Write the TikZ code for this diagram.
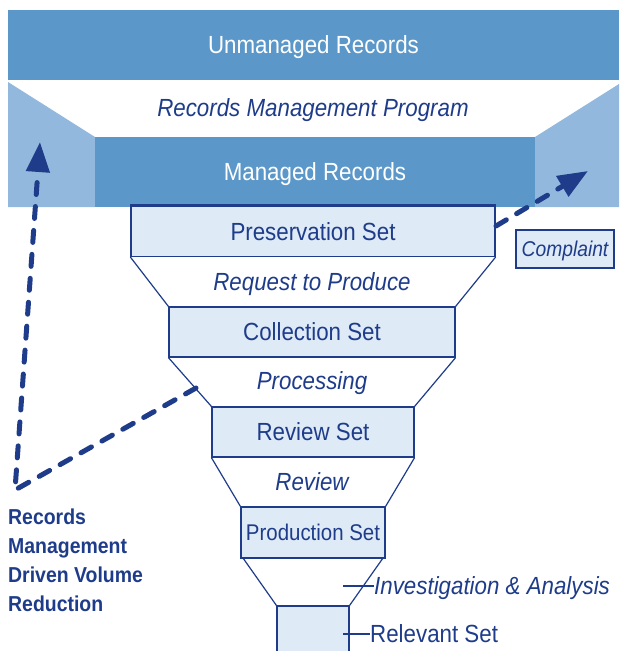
\documentclass[tikz,border=0pt]{standalone}
\usepackage{fontspec}
\setmainfont{Liberation Sans}[FakeStretch=0.9]
\usetikzlibrary{arrows.meta}
\definecolor{midblue}{HTML}{5B98C9}
\definecolor{sideblue}{HTML}{92B9DD}
\definecolor{boxfill}{HTML}{DEEAF5}
\definecolor{navy}{HTML}{1E3C8A}
\begin{document}
\begin{tikzpicture}[x=1pt,y=-1pt,
  band/.style={fill=midblue, text=white, inner sep=0pt,
    font=\fontsize{24.8}{29}\selectfont, text height=17.8pt, text depth=0pt},
  setbox/.style={draw=navy, line width=1.2pt, fill=boxfill, text=navy, inner sep=0pt,
    font=\fontsize{24.8}{29}\selectfont, text height=17.8pt, text depth=0pt},
  stage/.style={text=navy, inner sep=0pt,
    font=\fontsize{24.8}{29}\selectfont\itshape, text height=17.8pt, text depth=0pt},
  plainlbl/.style={text=navy, inner sep=0pt,
    font=\fontsize{24.8}{29}\selectfont, text height=17.8pt, text depth=0pt},
  edge/.style={draw=navy, line width=1.2pt},
  flow/.style={draw=navy, line width=5pt, dash pattern=on 12pt off 12pt,
    line cap=round, -{Triangle[length=30pt,width=23pt]}},
]
\clip (0,0) rectangle (619,651);
\fill[white] (0,0) rectangle (619,651);

% side wedges of the records-management funnel
\fill[sideblue] (8,82) -- (95,137) -- (95,207) -- (8,207) -- cycle;
\fill[sideblue] (619,84) -- (535,137) -- (535,207) -- (619,207) -- cycle;

% bands
\node[band, minimum width=611pt, minimum height=70pt] (unmanaged) at (313.5,45) {Unmanaged Records};
\node[stage] (rmp) at (313,108) {Records Management Program};
\node[band, minimum width=440pt, minimum height=70pt] (managed) at (315,172) {Managed Records};

% set boxes
\node[setbox, minimum width=364pt, minimum height=50pt] (pres) at (313,231.5) {Preservation Set};
\draw[navy, line width=3pt] (pres.north west) -- (pres.north east);
\node[setbox, minimum width=286pt, minimum height=50pt] (coll) at (312,332) {Collection Set};
\node[setbox, minimum width=202pt, minimum height=50pt] (revset) at (313,432) {Review Set};
\node[setbox, minimum width=144pt, minimum height=51pt, font=\fontsize{22.7}{27}\selectfont, text height=16.3pt] (prod) at (313,532.5) {Production Set};
\node[setbox, minimum width=72pt, minimum height=94pt] (rel) at (313,653) {};

% funnel sides
\draw[edge] (pres.south west) -- (coll.north west);
\draw[edge] (pres.south east) -- (coll.north east);
\draw[edge] (coll.south west) -- (revset.north west);
\draw[edge] (coll.south east) -- (revset.north east);
\draw[edge] (revset.south west) -- (prod.north west);
\draw[edge] (revset.south east) -- (prod.north east);
\draw[edge] ([xshift=3pt]prod.south west) -- (rel.north west);
\draw[edge] ([xshift=-3pt]prod.south east) -- (rel.north east);

% stage labels
\node[stage] (req) at (312,282) {Request to Produce};
\node[stage] (proc) at (312,381) {Processing};
\node[stage] (rev) at (312,482) {Review};
\node[stage, anchor=west] (inv) at (374,586) {Investigation \& Analysis};
\node[plainlbl, anchor=west] (rellbl) at (370,634) {Relevant Set};
\coordinate (invtick) at (343,586);
\coordinate (reltick) at (343,634);
\draw[edge] (invtick) -- (inv.west);
\draw[edge] (reltick) -- (rellbl.west);

% complaint
\node[setbox, minimum width=98pt, minimum height=38pt,
  font=\fontsize{21.4}{25}\selectfont\itshape, text height=15.3pt] (complaint) at (565,249) {Complaint};

% side text
\node[anchor=north west, align=left, text=navy, inner sep=0pt,
  font=\fontsize{21.6}{29}\selectfont\bfseries] (rmdvr) at (8,509) {Records\\Management\\Driven Volume\\Reduction};

% dashed arrows
\coordinate (rstart) at (496,226);
\coordinate (rtip) at (588,171);
\draw[flow] (rstart) -- (rtip);
\coordinate (lstart) at (196,388);
\coordinate (lcorner) at (15,490);
\coordinate (ltip) at (40,142);
\draw[flow, line join=miter] (lstart) -- (lcorner) -- (ltip);
\end{tikzpicture}
\end{document}
